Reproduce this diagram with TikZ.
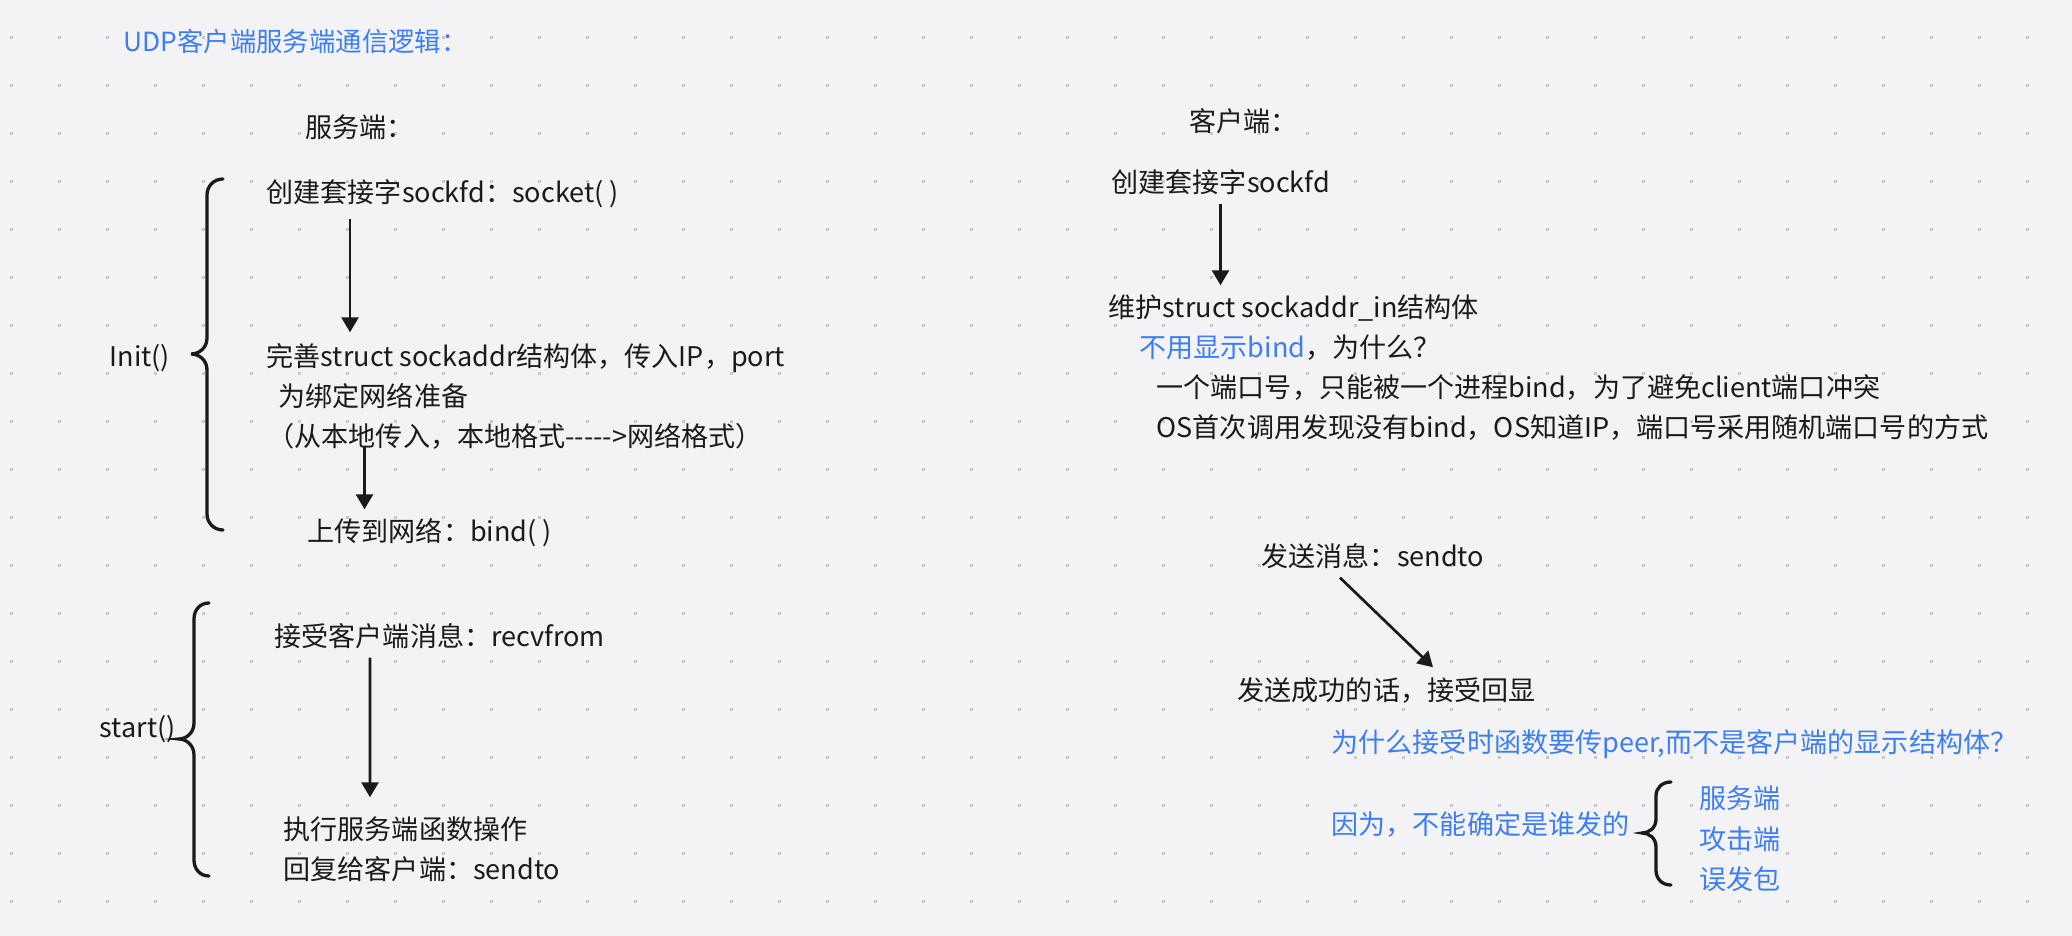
\documentclass[tikz,border=0pt]{standalone}
\usepackage{fontspec}
\setmainfont[Ligatures=TeXOff]{Noto Sans CJK SC}
\usetikzlibrary{arrows.meta}

\definecolor{bgc}{RGB}{243,243,245}
\definecolor{dotc}{RGB}{200,200,204}
\definecolor{ink}{RGB}{26,26,26}
\definecolor{hint}{RGB}{61,126,247}

\tikzset{
  txt/.style={anchor=west, inner sep=0pt, text height=0.23cm, text depth=0.03cm,
    text=ink, font=\fontsize{7.7pt}{9pt}\selectfont},
  note/.style={txt, text=hint},
  flow/.style={-{Triangle[width=0.17cm,length=0.15cm]}, line width=0.027cm, draw=ink},
  curly/.style={line width=0.033cm, draw=ink, line cap=round}
}

\begin{document}
\begin{tikzpicture}[y=-1cm]

  % --- fondo a puntini ---
  \fill[bgc] (0,0) rectangle (20.72,9.36);
  \useasboundingbox (0,0) rectangle (20.72,9.36);
  \foreach \i in {0,...,42}
    \foreach \j in {0,...,18}
      \fill[dotc] (0.10+0.48*\i, 0.365+0.48*\j) rectangle ++(0.03,0.03);

  % --- titolo ---
  \node[note, font=\fontsize{7.5pt}{9pt}\selectfont] (title) at (1.23, 0.42) {UDP客户端服务端通信逻辑：};

  % --- server: Init() ---
  \node[txt] (srv) at (3.05, 1.28) {服务端：};
  \node[txt] (sock) at (2.66, 1.93) {创建套接字sockfd：socket( )};
  \node[txt] (addr) at (2.66, 3.57) {完善struct sockaddr结构体，传入IP，port};
  \node[txt] (prep) at (2.78, 3.97) {为绑定网络准备};
  \node[txt] (local) at (2.67, 4.37) {（从本地传入，本地格式----->网络格式）};
  \node[txt] (bindn) at (3.07, 5.32) {上传到网络：bind( )};
  \node[txt] (init) at (1.09, 3.57) {Init()};

  \draw[flow] ([xshift=0.84cm,yshift=-0.12cm]sock.south west)
    -- ([xshift=0.84cm,yshift=0.11cm]addr.north west);
  \draw[flow] ([xshift=0.975cm,yshift=0.05cm]local.south west)
    -- ([xshift=0.575cm,yshift=0.09cm]bindn.north west);

  \draw[curly] (2.23,1.79) .. controls (2.14,1.79) and (2.07,1.86) .. (2.07,1.95)
    -- (2.07,3.38) .. controls (2.07,3.48) and (1.99,3.54) .. (1.91,3.54)
    .. controls (1.99,3.54) and (2.07,3.60) .. (2.07,3.70)
    -- (2.07,5.14) .. controls (2.07,5.23) and (2.14,5.30) .. (2.23,5.30);

  % --- server: start() ---
  \node[txt] (recv) at (2.74, 6.37) {接受客户端消息：recvfrom};
  \node[txt] (exec) at (2.83, 8.30) {执行服务端函数操作};
  \node[txt] (reply) at (2.83, 8.70) {回复给客户端：sendto};
  \node[txt] (start) at (0.99, 7.28) {start()};

  \draw[flow] ([xshift=0.96cm,yshift=-0.07cm]recv.south west)
    -- ([xshift=0.87cm,yshift=0.19cm]exec.north west);

  \draw[curly] (2.09,6.03) .. controls (2.00,6.03) and (1.94,6.10) .. (1.94,6.19)
    -- (1.94,7.23) .. controls (1.94,7.33) and (1.86,7.39) .. (1.79,7.39)
    .. controls (1.86,7.39) and (1.94,7.45) .. (1.94,7.55)
    -- (1.94,8.60) .. controls (1.94,8.69) and (2.00,8.76) .. (2.09,8.76);

  % --- client ---
  \node[txt] (cli) at (11.89, 1.22) {客户端：};
  \node[txt] (sockc) at (11.11, 1.83) {创建套接字sockfd};
  \node[txt] (maint) at (11.08, 3.08) {维护struct sockaddr\_in结构体};
  \node[txt] (nobind) at (11.39, 3.48) {\textcolor{hint}{不用显示bind}，为什么？};
  \node[txt] (why1) at (11.56, 3.88) {一个端口号，只能被一个进程bind，为了避免client端口冲突};
  \node[txt] (why2) at (11.56, 4.28) {OS首次调用发现没有bind，OS知道IP，端口号采用随机端口号的方式};

  \draw[flow] ([xshift=1.095cm,yshift=-0.07cm]sockc.south west)
    -- ([xshift=1.125cm,yshift=0.09cm]maint.north west);

  \node[txt] (send) at (12.61, 5.57) {发送消息：sendto};
  \node[txt] (echo) at (12.37, 6.91) {发送成功的话，接受回显};

  \draw[flow] ([xshift=0.79cm,yshift=-0.07cm]send.south west)
    -- ([xshift=1.96cm,yshift=0.10cm]echo.north west);

  % --- peer ---
  \node[note] (peer) at (13.31, 7.43) {为什么接受时函数要传peer,而不是客户端的显示结构体？};
  \node[note] (cause) at (13.31, 8.25) {因为，不能确定是谁发的};
  \node[note] (src1) at (16.99, 7.99) {服务端};
  \node[note] (src2) at (16.99, 8.40) {攻击端};
  \node[note] (src3) at (16.99, 8.80) {误发包};

  \draw[curly] (16.71,7.82) .. controls (16.62,7.82) and (16.56,7.88) .. (16.56,7.96)
    -- (16.56,8.19) .. controls (16.56,8.28) and (16.49,8.33) .. (16.42,8.33)
    .. controls (16.49,8.33) and (16.56,8.38) .. (16.56,8.47)
    -- (16.56,8.70) .. controls (16.56,8.79) and (16.62,8.85) .. (16.71,8.85);

\end{tikzpicture}
\end{document}
